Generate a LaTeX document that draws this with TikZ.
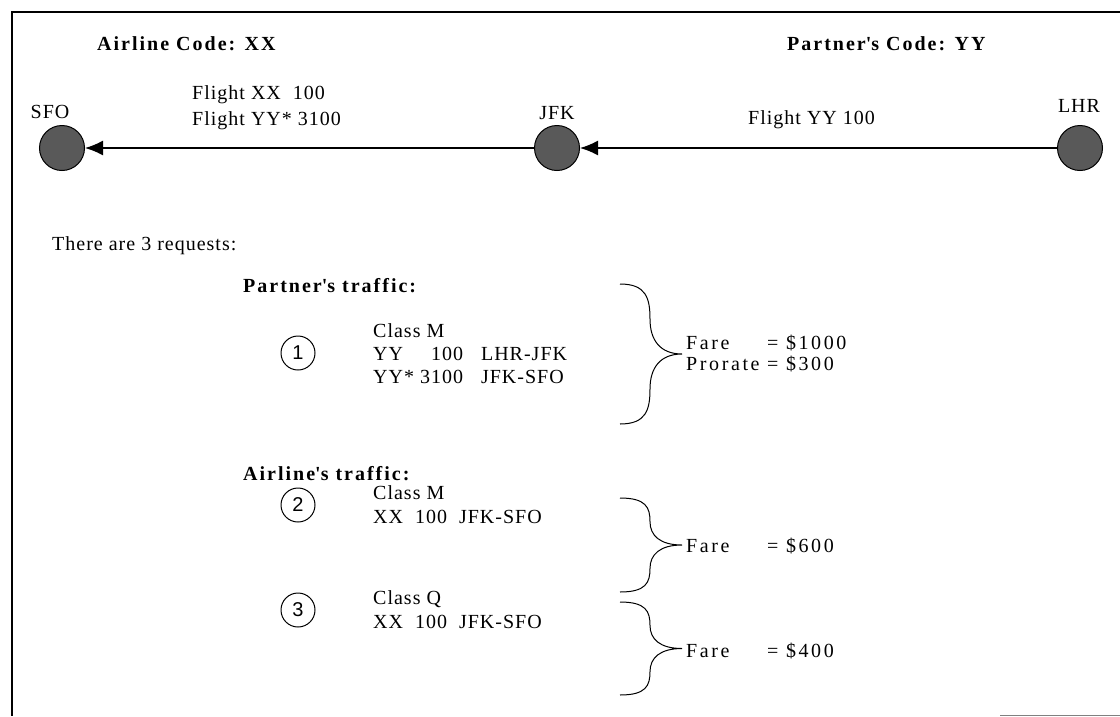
\documentclass[tikz,border=0pt]{standalone}
\usepackage{fontspec}
\usepackage{calc}
\setmainfont{Liberation Serif}[LetterSpace=5, BoldFeatures={LetterSpace=10}]
\newfontfamily\numfont{Liberation Sans}
\newfontfamily\farefont[LetterSpace=13]{Liberation Serif}
\usetikzlibrary{positioning, arrows.meta}

\begin{document}
\begin{tikzpicture}[
        x=1pt, y=-1pt,
        font=\fontsize{20}{24}\selectfont,
        airport/.style={circle, draw, fill=black!65, minimum size=45pt,
          inner sep=0pt, line width=1pt},
        reqnum/.style={circle, draw, minimum size=34pt, inner sep=0pt,
          line width=1pt, font=\numfont\fontsize{20}{22}\selectfont},
        txt/.style={anchor=base west, inner sep=0pt, align=left},
        code/.style={anchor=base, inner sep=0pt},
        head/.style={txt, font=\fontsize{20}{24}\selectfont\bfseries},
        fare/.style={txt, font=\farefont\fontsize{20}{24}\selectfont},
        brace/.style={draw, line width=1pt},
        line/.style={draw, -{Latex[length=18pt, width=15pt]}, line width=1.5pt}
      ]
      \useasboundingbox (0,0) rectangle (1120,716);
      \draw[line width=1.3pt] (1120,12) -- (12,12) -- (12,716);
      \draw[line width=1pt, gray] (1000,715) -- (1120,715);

      \node [head] (airline_code) at (97,50) {Airline Code: XX};
      \node [head] (partner_code) at (787,50) {Partner\textquotesingle s Code: YY};

      \node [airport] (sfo) at (62,148) {};
      \node [airport] (jfk) at (557,148) {};
      \node [airport] (lhr) at (1080,148) {};
      \node [code] (sfo_lbl) at (50,118) {SFO};
      \node [code] (jfk_lbl) at (557,119) {JFK};
      \node [code] (lhr_lbl) at (1079,112) {LHR};

      \node [txt] (xx_flight) at (192,125) {Flight XX\ \ 100\\[2pt]Flight YY* 3100};
      \node [txt] (yy_flight) at (748,124) {Flight YY 100};

      \path [line] (jfk) -- (sfo);
      \path [line] (lhr) -- (jfk);

      \node [txt] (requests) at (52,250) {There are 3 requests:};
      \node [head] (partner_traffic) at (243,292) {Partner\textquotesingle s traffic:};
      \node [head] (airline_traffic) at (243,480) {Airline\textquotesingle s traffic:};

      \node [reqnum] (req1) at (298,353) {1};
      \node [reqnum] (req2) at (298,505) {2};
      \node [reqnum] (req3) at (298,610) {3};

      \node [txt] (req1_txt) at (373,337) {\begin{tabular}[t]{@{}l@{\ }r@{\ \ \ }l@{}}
        \multicolumn{3}{@{}l@{}}{Class M}\\[-1pt]
        YY & 100 & LHR-JFK\\[-1pt]
        YY* & 3100 & JFK-SFO
      \end{tabular}};
      \node [txt] (req2_txt) at (373,523) {Class M\\XX\ \ 100\ \ JFK-SFO};
      \node [txt] (req3_txt) at (373,628) {Class Q\\XX\ \ 100\ \ JFK-SFO};

      \foreach \yt/\yb in {284/424, 498/592, 602/695} {
        \pgfmathsetmacro{\ym}{(\yt+\yb)/2}
        \pgfmathsetmacro{\hh}{(\yb-\yt)/2}
        \path [brace] (620,\yt) .. controls (646,\yt) and (650,\yt+0.2*\hh) .. (650,\yt+0.5*\hh)
          .. controls (650,\ym-0.2*\hh) and (660,\ym) .. (682,\ym)
          .. controls (660,\ym) and (650,\ym+0.2*\hh) .. (650,\ym+0.5*\hh)
          .. controls (650,\yb-0.2*\hh) and (646,\yb) .. (620,\yb);
      }

      \node [fare] (fare1) at (686,349) {\begin{tabular}[t]{@{}l@{\ }l@{}}
        Fare & = \$1000\\[-3pt]
        Prorate & = \$300
      \end{tabular}};
      \node [fare] (fare2) at (686,552) {\makebox[\widthof{Prorate}][l]{Fare}\ = \$600};
      \node [fare] (fare3) at (686,657) {\makebox[\widthof{Prorate}][l]{Fare}\ = \$400};

    \end{tikzpicture}
\end{document}
